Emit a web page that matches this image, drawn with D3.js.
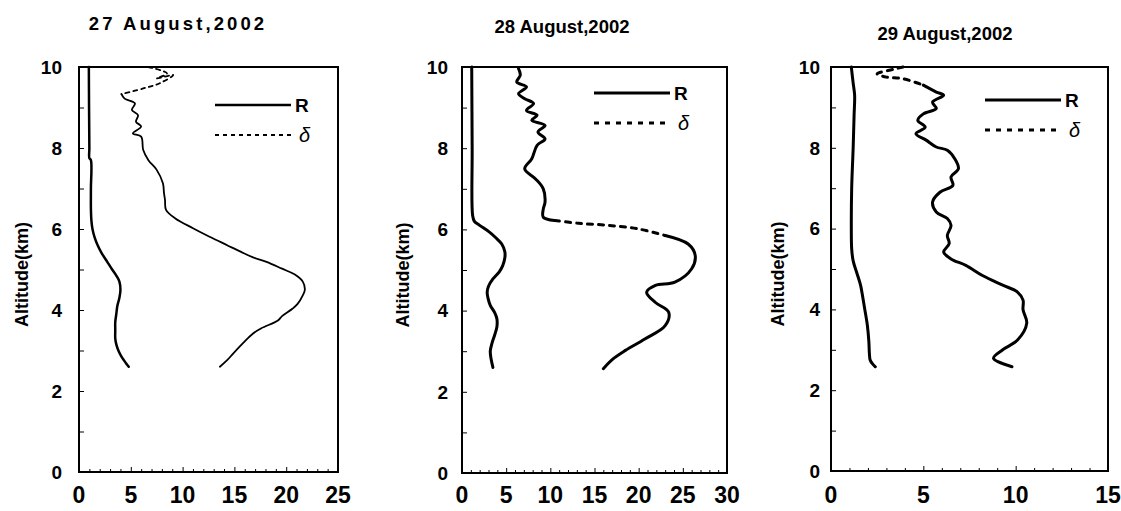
<!DOCTYPE html>
<html>
<head>
<meta charset="utf-8">
<script src="https://cdn.jsdelivr.net/npm/d3@7"></script>
<style>
  body { margin: 0; background: #fff; }
  svg text { font-family: "Liberation Sans", Arial, sans-serif; fill: #000; }
  .frame { fill: none; stroke: #000; stroke-width: 2px; }
  .tick-line { stroke: #000; stroke-width: 1px; }
  .curve { fill: none; stroke: #000; stroke-linejoin: round; stroke-linecap: round; }
</style>
</head>
<body>
<svg id="chart" width="1121" height="511"></svg>
<script>
// [altitude km, value]
const r27 = [[10.0,0.95],[9.0,0.97],[8.0,1.0],[7.75,1.0],[7.7,1.15],[7.0,1.15],[6.5,1.15],[6.2,1.2],[6.0,1.3],
  [5.8,1.5],[5.6,1.8],[5.4,2.2],[5.2,2.7],[5.0,3.2],[4.85,3.6],[4.7,3.9],[4.5,4.0],[4.3,3.9],[4.1,3.7],
  [3.9,3.6],[3.7,3.5],[3.5,3.5],[3.3,3.5],[3.15,3.6],[3.0,3.8],[2.85,4.1],[2.7,4.5],[2.6,4.8]];
const d27 = [[10.0,6.7],[9.84,8.5],[9.72,7.5],[9.8,9.1],[9.6,7.8],[9.47,6.2],[9.33,4.1],[9.22,4.4],[9.1,5.4],
  [8.94,5.1],[8.81,5.7],[8.65,5.5],[8.53,6.0],[8.36,5.2],[8.28,6.0],[7.95,6.2],[7.7,6.7],[7.46,7.5],
  [7.13,8.1],[6.9,8.2],[6.72,8.3],[6.47,8.4],[6.26,9.3],[6.02,11.0],[5.81,12.6],[5.6,14.3],[5.44,15.6],
  [5.3,16.8],[5.19,18.1],[5.02,19.6],[4.88,20.8],[4.7,21.6],[4.5,21.8],[4.36,21.6],[4.15,21.1],[4.03,20.6],
  [3.85,19.6],[3.74,19.2],[3.55,17.6],[3.42,16.8],[3.2,15.9],[2.93,14.9],[2.76,14.3],[2.6,13.6]];

const r28 = [[10.0,1.1],[8.0,1.15],[6.35,1.2],[6.2,1.4],[6.1,2.0],[5.95,3.0],[5.8,3.8],[5.64,4.5],[5.45,4.85],
  [5.3,4.85],[5.1,4.6],[4.95,4.2],[4.78,3.5],[4.6,3.0],[4.45,2.85],[4.3,2.95],[4.13,3.2],[3.95,3.7],
  [3.8,3.95],[3.6,3.95],[3.4,3.7],[3.2,3.4],[3.0,3.2],[2.8,3.3],[2.6,3.5]];
const d28 = [[9.96,6.4],[9.8,6.6],[9.63,6.2],[9.51,7.3],[9.34,6.4],[9.22,7.1],[9.1,8.1],[8.93,7.3],[8.81,8.5],
  [8.69,7.9],[8.56,9.4],[8.4,8.6],[8.23,9.4],[8.07,8.5],[7.74,7.9],[7.49,7.1],[7.25,8.3],[7.0,9.2],
  [6.67,9.4],[6.5,9.2],[6.3,9.2],[6.22,10.5],[6.15,13.2],[6.1,16.6],[6.01,20.0],[5.85,23.0],[5.64,25.6],
  [5.36,26.4],[5.03,26.0],[4.7,24.1],[4.62,21.9],[4.45,20.9],[4.2,21.9],[3.96,23.4],[3.63,23.0],
  [3.3,20.7],[3.02,18.5],[2.81,17.1],[2.57,16.0]];

const r29 = [[10.0,1.1],[9.6,1.2],[9.3,1.28],[8.8,1.25],[8.0,1.2],[7.0,1.12],[6.0,1.1],[5.5,1.12],[5.2,1.2],
  [4.9,1.4],[4.6,1.6],[4.3,1.72],[4.0,1.83],[3.6,1.97],[3.2,2.05],[2.9,2.08],[2.75,2.12],[2.65,2.25],[2.58,2.4]];
const d29 = [[10.0,3.9],[9.94,3.35],[9.83,2.5],[9.75,3.0],[9.71,3.9],[9.55,5.0],[9.38,5.7],[9.3,6.1],[9.13,5.5],
  [8.97,5.7],[8.84,5.0],[8.68,4.7],[8.51,5.1],[8.35,4.6],[8.19,5.15],[8.02,5.7],[7.94,6.3],[7.73,6.7],
  [7.48,6.9],[7.28,6.5],[7.07,6.6],[6.9,5.9],[6.66,5.5],[6.41,5.7],[6.25,6.3],[6.08,6.5],[5.83,6.3],
  [5.63,6.4],[5.42,6.1],[5.25,6.5],[5.09,7.3],[4.84,8.2],[4.6,9.3],[4.43,10.1],[4.23,10.4],[3.99,10.4],
  [3.66,10.6],[3.24,10.1],[3.0,9.3],[2.79,8.8],[2.58,9.8]];

const titles = ["27 August,2002", "28 August,2002", "29 August,2002"];
const xMax = [25, 30, 15];
const yTicks = [0, 2, 4, 6, 8, 10];

const panels = [
  {title: titles[0], r: r27, d: d27, xMax: xMax[0], left: 79, right: 338, top: 67, bottom: 472,
   titleX: 178, titleY: 30, titleSpacing: 3.1, yTitleX: 22, yLabelGap: 17,
   rWidth: 2.5, dWidth: 1.8, dash: [9.33, 10.1], dashArray: "4,4", legX: 215, legY: 105},
  {title: titles[1], r: r28, d: d28, xMax: xMax[1], left: 462, right: 727, top: 67, bottom: 473,
   titleX: 562, titleY: 33, titleSpacing: 0, yTitleX: 403, yLabelGap: 14,
   rWidth: 3, dWidth: 3, dash: [5.85, 6.22], dashArray: "5,6", legX: 594, legY: 93},
  {title: titles[2], r: r29, d: d29, xMax: xMax[2], left: 831, right: 1108, top: 67, bottom: 471,
   titleX: 945, titleY: 40, titleSpacing: 0, yTitleX: 778, yLabelGap: 11,
   rWidth: 3, dWidth: 3, dash: [9.55, 10.1], dashArray: "5,6", legX: 985, legY: 100}
];

const svg = d3.select("#chart");

panels.forEach(p => {
  const x = d3.scaleLinear().domain([0, p.xMax]).range([p.left, p.right]);
  const y = d3.scaleLinear().domain([0, 10]).range([p.bottom, p.top]);
  const g = svg.append("g");

  // title
  g.append("text")
    .attr("x", p.titleX).attr("y", p.titleY)
    .attr("text-anchor", "middle")
    .attr("font-size", 18.5).attr("font-weight", "bold")
    .attr("letter-spacing", p.titleSpacing)
    .text(p.title);

  // inner ticks
  const yAxis = d3.axisRight(y).ticks(10).tickSize(5).tickFormat("");
  g.append("g").attr("transform", `translate(${p.left},0)`).call(yAxis)
    .call(s => s.select(".domain").remove());
  const xAxis = d3.axisTop(x).ticks(p.xMax).tickSize(3).tickFormat("");
  g.append("g").attr("transform", `translate(0,${p.bottom})`).call(xAxis)
    .call(s => s.select(".domain").remove())
    .selectAll(".tick line").attr("y2", d => d % 5 === 0 ? -5 : -3);

  g.append("rect").attr("class", "frame")
    .attr("x", p.left).attr("y", p.top)
    .attr("width", p.right - p.left).attr("height", p.bottom - p.top);

  // tick labels
  g.selectAll(".ylab").data(yTicks).join("text")
    .attr("x", p.left - p.yLabelGap).attr("y", d => y(d))
    .attr("dy", "0.36em").attr("text-anchor", "end")
    .attr("font-size", 19).attr("font-weight", "bold")
    .text(d => d);
  g.selectAll(".xlab").data(d3.range(0, p.xMax + 1, 5)).join("text")
    .attr("x", d => x(d)).attr("y", 503)
    .attr("text-anchor", "middle")
    .attr("font-size", 23).attr("font-weight", "bold")
    .text(d => d);

  g.append("text")
    .attr("transform", `translate(${p.yTitleX},${(p.top + p.bottom) / 2 + 5}) rotate(-90)`)
    .attr("text-anchor", "middle").attr("dy", "0.35em")
    .attr("font-size", 18).attr("font-weight", "bold")
    .text("Altitude(km)");

  // curves
  const line = d3.line().x(d => x(d[1])).y(d => y(d[0])).curve(d3.curveCatmullRom);
  g.append("path").attr("class", "curve")
    .attr("stroke-width", p.rWidth)
    .attr("d", line(p.r));

  const inDash = d => d[0] >= p.dash[0] && d[0] <= p.dash[1];
  const dLine = d3.line().x(d => x(d[1])).y(d => y(d[0])).curve(d3.curveCatmullRom);
  g.append("path").attr("class", "curve")
    .attr("stroke-width", p.dWidth)
    .attr("d", dLine.defined(d => !inDash(d) || d[0] === p.dash[0] || d[0] === p.dash[1])(p.d));
  g.append("path").attr("class", "curve")
    .attr("stroke-width", p.dWidth)
    .attr("stroke-linecap", "butt")
    .attr("stroke-dasharray", p.dashArray)
    .attr("d", dLine.defined(inDash)(p.d));

  // legend
  const leg = g.append("g");
  leg.append("line").attr("x1", p.legX).attr("x2", p.legX + 76)
    .attr("y1", p.legY).attr("y2", p.legY)
    .attr("stroke", "#000").attr("stroke-width", p.rWidth);
  leg.append("text").attr("x", p.legX + 80).attr("y", p.legY).attr("dy", "0.36em")
    .attr("font-size", 19).attr("font-weight", "bold").text("R");
  leg.append("line").attr("x1", p.legX).attr("x2", p.legX + 76)
    .attr("y1", p.legY + 30).attr("y2", p.legY + 30)
    .attr("stroke", "#000").attr("stroke-width", p.dWidth)
    .attr("stroke-dasharray", p.dashArray);
  leg.append("text").attr("x", p.legX + 84).attr("y", p.legY + 30).attr("dy", "0.36em")
    .attr("font-size", 20).attr("font-style", "italic").text("δ");
});
</script>
</body>
</html>
